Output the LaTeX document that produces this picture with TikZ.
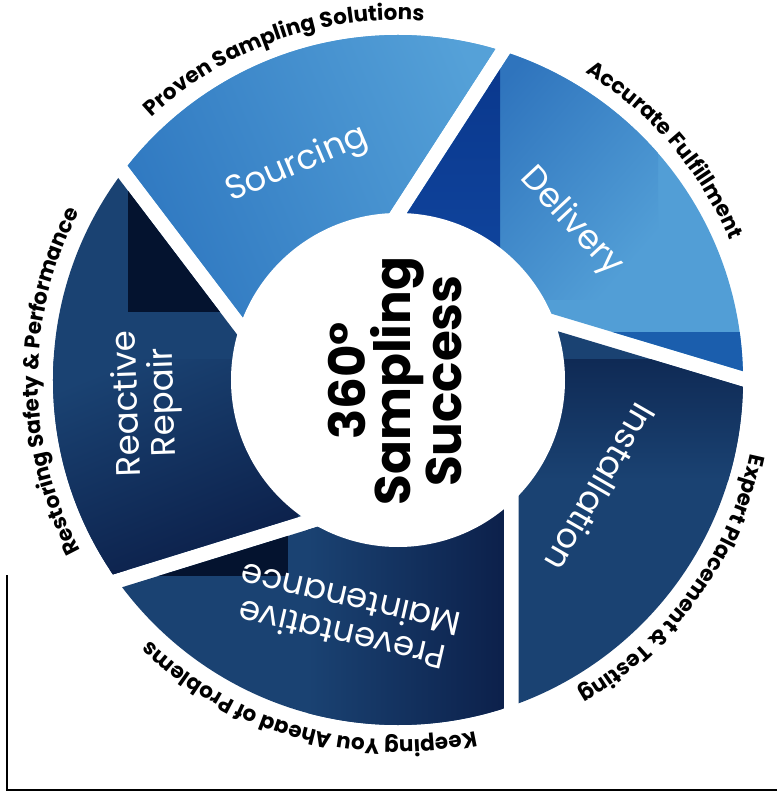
\documentclass[tikz,border=0pt]{standalone}
\usepackage{fontspec}
\setmainfont{Poppins}
\usetikzlibrary{decorations.text}

\definecolor{srcdark}{HTML}{2E77C0}
\definecolor{srclight}{HTML}{55A1D8}
\definecolor{dlvdark}{HTML}{2F74BD}
\definecolor{dlvlight}{HTML}{529ED6}
\definecolor{royaltop}{HTML}{0A378C}
\definecolor{royal}{HTML}{1149A3}
\definecolor{stripblue}{HTML}{1B5EAD}
\definecolor{navy}{HTML}{1A4272}
\definecolor{navytop}{HTML}{0F2A55}
\definecolor{navydeep}{HTML}{0B1E48}
\definecolor{ink}{HTML}{04132F}

\newcommand\ringfont{\fontsize{21.5}{25}\selectfont\bfseries}

\tikzset{
  seglabel/.style={text=white, align=center, font=\fontsize{34}{36}\selectfont},
  hublabel/.style={text=black, align=center, font=\fontsize{50}{45}\selectfont\bfseries},
  ringlabel/.style={decorate, decoration={text along path, text align=center,
      text={|\ringfont|#1}}},
}

\begin{document}
\begin{tikzpicture}[x=1pt,y=1pt]
  \useasboundingbox (-398,-415) rectangle (379,380);

  % Sourcing
  \begin{scope}
    \clip (0,0) circle (345);
    \clip[rotate=147.1] (98.1,-900) rectangle (900,900);
    \clip[rotate=217.2] (-900,-900) rectangle (85.7,900);
    \fill[srclight] (-400,0) rectangle (400,400);
    \shade[left color=srcdark, right color=srclight, shading angle=113] (-290,50) rectangle (120,360);
  \end{scope}

  % Delivery
  \begin{scope}
    \clip (0,0) circle (345);
    \clip[rotate=73.3] (107.6,-900) rectangle (900,900);
    \clip[rotate=147.1] (-900,-900) rectangle (83.1,900);
    \fill[dlvlight] (0,-100) rectangle (400,400);
    \shade[left color=dlvdark, right color=dlvlight, shading angle=49] (90,80) rectangle (260,350);
    \shade[top color=royaltop, bottom color=royal] (0,30) rectangle (102,330);
    \fill[stripblue] (100,-100) rectangle (400,48);
  \end{scope}

  % Installation
  \begin{scope}
    \clip (0,0) circle (345);
    \clip (120.5,-900) rectangle (900,900);
    \clip[rotate=73.3] (-900,-900) rectangle (92.6,900);
    \fill[navy] (100,-400) rectangle (400,100);
    \shade[top color=navytop, bottom color=navy] (100,-100) rectangle (380,20);
  \end{scope}

  % Preventative Maintenance
  \begin{scope}
    \clip (0,0) circle (345);
    \clip[rotate=287.2] (116.4,-900) rectangle (900,900);
    \clip (-900,-900) rectangle (105.5,900);
    \fill[navy] (-400,-400) rectangle (120,0);
    \shade[left color=navy, right color=navydeep] (-90,-420) rectangle (120,-90);
    \fill[ink] (-420,-196) rectangle (-110,0);
  \end{scope}

  % Reactive Repair
  \begin{scope}
    \clip (0,0) circle (345);
    \clip[rotate=217.2] (100.7,-900) rectangle (900,900);
    \clip[rotate=287.2] (-900,-900) rectangle (101.4,900);
    \fill[navy] (-400,-400) rectangle (0,400);
    \shade[top color=navy, bottom color=navydeep, shading angle=22] (-360,-200) rectangle (-100,20);
    \fill[navydeep] (-400,-400) rectangle (0,-190);
    \fill[ink] (-270,68) rectangle (60,320);
  \end{scope}

  % hole
  \fill[white] (0,0) circle (167);

  \node[seglabel, rotate=23] (sourcing) at (-101,215) {Sourcing};
  \node[seglabel, rotate=-47] (delivery) at (173,158) {Delivery};
  \node[seglabel, rotate=-120] (installation) at (203,-108) {Installation};
  \node[seglabel, rotate=167] (preventative) at (-52,-238) {Preventative\\Maintenance};
  \node[seglabel, rotate=92] (reactive) at (-251,-23) {Reactive\\Repair};
  \node[hublabel, rotate=90] (hub) at (-3,-1) {360°\\Sampling\\Success};

  \path[ringlabel={Proven Sampling Solutions}] (149.5:360) arc[start angle=149.5, end angle=69.5, radius=360];
  \path[ringlabel={Accurate Fulfillment}] (80.7:360) arc[start angle=80.7, end angle=0.7, radius=360];
  \path[ringlabel={Expert Placement {\&} Testing}] (4.1:360) arc[start angle=4.1, end angle=-75.9, radius=360];
  \path[ringlabel={Keeping You Ahead of Problems}] (-65.6:360) arc[start angle=-65.6, end angle=-145.6, radius=360];
  \path[ringlabel={Restoring Safety {\&} Performance}] (220.2:360) arc[start angle=220.2, end angle=140.2, radius=360];

  \draw[line width=2] (-390.5,-195) -- (-390.5,-409.5) -- (379,-409.5);
\end{tikzpicture}
\end{document}
